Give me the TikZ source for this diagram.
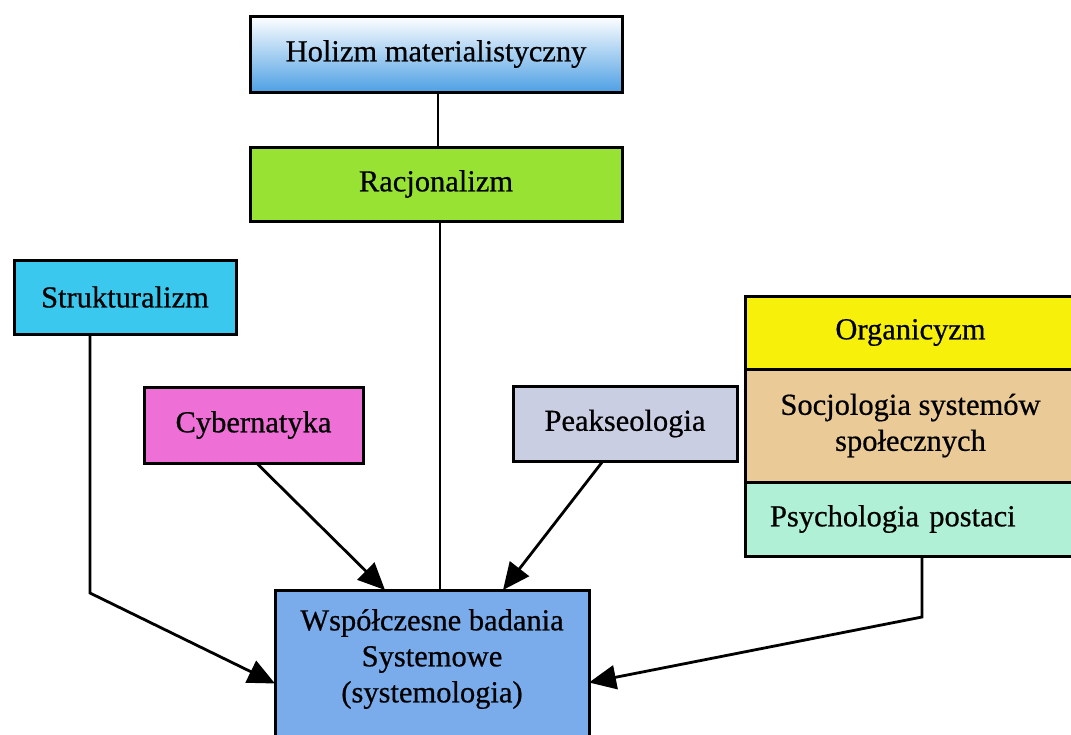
\documentclass[tikz,border=0pt]{standalone}
\usepackage{fontspec}
\setmainfont{Liberation Serif}[FakeBold=0.6]
\usetikzlibrary{arrows.meta,calc}

\definecolor{holblue}{RGB}{78,160,228}
\definecolor{racgreen}{RGB}{152,226,52}
\definecolor{strcyan}{RGB}{58,200,238}
\definecolor{cybpink}{RGB}{238,112,214}
\definecolor{peagray}{RGB}{202,206,226}
\definecolor{orgyellow}{RGB}{246,240,10}
\definecolor{soctan}{RGB}{234,202,150}
\definecolor{psymint}{RGB}{176,240,214}
\definecolor{sysblue}{RGB}{122,172,236}

\begin{document}
\begin{tikzpicture}[x=1pt,y=-1pt,
  box/.style={draw=black, line width=3pt, inner sep=0pt, outer sep=0pt,
    anchor=north west, align=center, font=\fontsize{30.5}{36}\selectfont},
  link/.style={line width=2.8pt},
  arr/.style={line width=2.8pt, -{Triangle[length=27pt,width=24pt]}}]

\useasboundingbox (0,0) rectangle (1071,734);
\clip (0,0) rectangle (1071,734);

% top chain
\node[box, top color=white, middle color=holblue!28, bottom color=holblue,
  minimum width=372pt, minimum height=76pt] (hol) at (250,16) {Holizm materialistyczny};
\node[box, fill=racgreen, minimum width=372pt, minimum height=74pt] (rac) at (250,147) {Racjonalizm};

% side sources
\node[box, fill=strcyan, minimum width=222pt, minimum height=74pt] (str) at (14,260) {Strukturalizm};
\node[box, fill=cybpink, minimum width=219pt, minimum height=76pt] (cyb) at (144,387) {Cybernatyka};
\node[box, fill=peagray, minimum width=224pt, minimum height=75pt] (pea) at (513,386) {Peakseologia};

% stacked group on the right
\node[box, fill=orgyellow, minimum width=331pt, minimum height=73pt] (org) at (745,296) {Organicyzm};
\node[box, fill=soctan, minimum width=331pt, minimum height=113pt] (soc) at (745,369) {Socjologia systemów\\społecznych};
\node[box, fill=psymint, minimum height=74pt, text width=281pt, inner xsep=25pt,
  align=left] (psy) at (745,482) {Psychologia postaci};

% target
\node[box, fill=sysblue, minimum width=314pt, minimum height=175pt] (sys) at (275,590) {};
\node[align=center, font=\fontsize{30.5}{36}\selectfont] (systxt) at (432,659)
  {Współczesne badania\\Systemowe\\(systemologia)};

% connectors
\coordinate (strbend) at (90,593);
\coordinate (psybend) at (922,617);

\draw[link] ([xshift=2pt]hol.south) -- ([xshift=2pt]rac.north);
\draw[link] ([xshift=4pt]rac.south) -- ([xshift=4pt]rac.south |- sys.north);
\draw[arr] ([xshift=-35pt]str.south) -- (strbend) -- ([yshift=-6pt]sys.west);
\draw[arr] ([xshift=3pt]cyb.south) -- ([xshift=110pt]sys.north west);
\draw[arr] ([xshift=-22pt]pea.south) -- ([xshift=228pt]sys.north west);
\draw[arr] ([xshift=11.5pt]psy.south) -- (psybend) -- ([yshift=-5pt]sys.east);
\end{tikzpicture}
\end{document}
